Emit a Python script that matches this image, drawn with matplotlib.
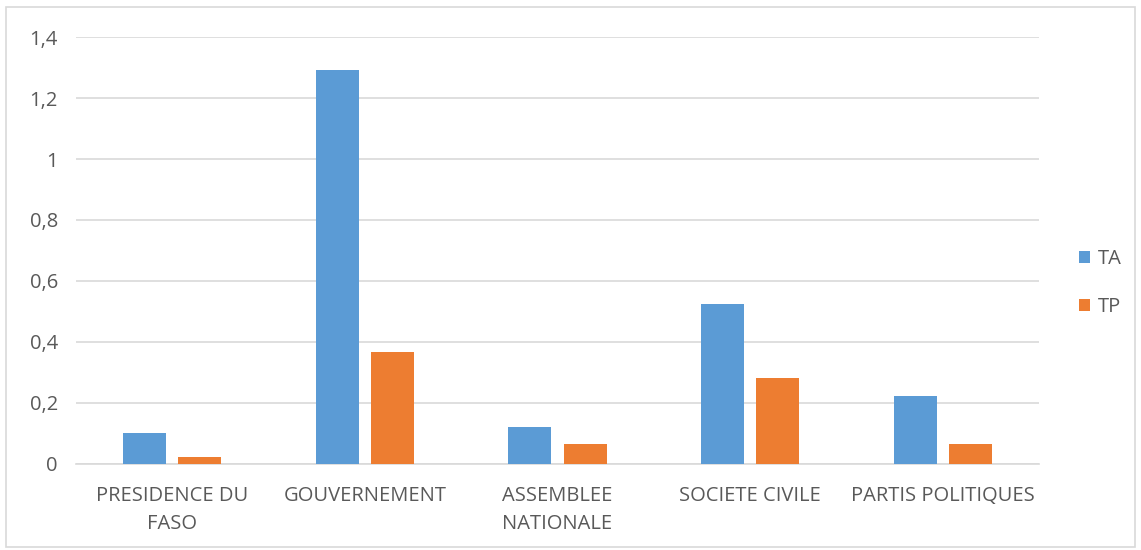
import numpy as np
import matplotlib.pyplot as plt
from matplotlib.patches import Rectangle
from matplotlib.ticker import FuncFormatter

categories = ["PRESIDENCE DU\nFASO", "GOUVERNEMENT", "ASSEMBLEE\nNATIONALE",
              "SOCIETE CIVILE", "PARTIS POLITIQUES"]
ta = [0.101, 1.293, 0.120, 0.525, 0.223]
tp = [0.022, 0.367, 0.066, 0.282, 0.064]
yticks = [0, 0.2, 0.4, 0.6, 0.8, 1.0, 1.2, 1.4]

plt.rcParams["font.family"] = ["Open Sans", "DejaVu Sans"]
txt = "#595959"
fs = 14.5

fig = plt.figure(figsize=(11.41, 5.5), dpi=100)
ax = fig.add_axes([0.0666, 0.1564, 0.844, 0.7763])

x = np.arange(len(categories))
w = 0.223
off = 0.143
ax.bar(x - off, ta, w, color="#5B9BD5", label="TA", zorder=3)
ax.bar(x + off, tp, w, color="#ED7D31", label="TP", zorder=3)

ax.set_xlim(-0.5, len(categories) - 0.5)
ax.set_ylim(0, 1.4)
ax.set_yticks(yticks)
ax.yaxis.set_major_formatter(FuncFormatter(
    lambda v, p: ("%g" % round(v, 1)).replace(".", ",")))
ax.set_xticks(x)
ax.set_xticklabels(categories, linespacing=1.55)
ax.tick_params(axis="both", length=0, labelsize=fs, colors=txt)
ax.tick_params(axis="x", pad=16)
ax.tick_params(axis="y", pad=13)

ax.grid(axis="y", color="#D9D9D9", linewidth=1.2, zorder=0)
for s in ["top", "right", "left"]:
    ax.spines[s].set_visible(False)
ax.spines["bottom"].set_color("#D9D9D9")
ax.spines["bottom"].set_linewidth(1.2)

leg = fig.legend(loc="center left", bbox_to_anchor=(0.93, 0.485), frameon=False,
                 fontsize=fs, handlelength=0.55, handleheight=0.55,
                 labelspacing=1.4, handletextpad=0.35)
for t in leg.get_texts():
    t.set_color(txt)

fig.patches.append(Rectangle((0.005, 0.005), 0.99, 0.982, transform=fig.transFigure,
                             fill=False, edgecolor="#D9D9D9", linewidth=1.2))

fig.savefig("out.png", dpi=100)
